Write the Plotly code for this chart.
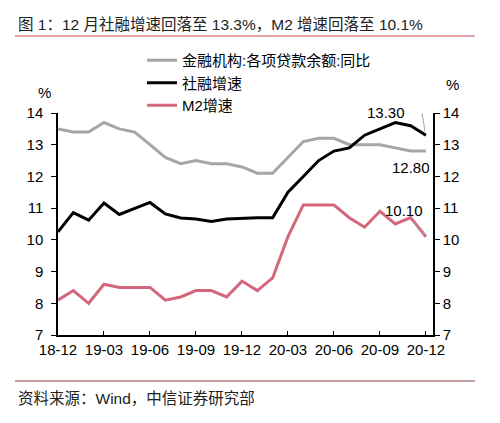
import plotly.graph_objects as go

# month labels, 18-12 .. 20-12
months = ["18-12",
          "19-01", "19-02", "19-03", "19-04", "19-05", "19-06",
          "19-07", "19-08", "19-09", "19-10", "19-11", "19-12",
          "20-01", "20-02", "20-03", "20-04", "20-05", "20-06",
          "20-07", "20-08", "20-09", "20-10", "20-11", "20-12"]
tick_labels = ["18-12", "19-03", "19-06", "19-09", "19-12", "20-03", "20-06", "20-09", "20-12"]

loans = [13.5, 13.4, 13.4, 13.7, 13.5, 13.4, 13.0, 12.6, 12.4, 12.5, 12.4, 12.4, 12.3,
         12.1, 12.1, 12.6, 13.1, 13.2, 13.2, 13.0, 13.0, 13.0, 12.9, 12.8, 12.8]
tsf = [10.25, 10.86, 10.62, 11.16, 10.8, 10.98, 11.18, 10.82, 10.69, 10.66, 10.58, 10.66, 10.69,
       10.7, 10.7, 11.5, 12.0, 12.5, 12.8, 12.9, 13.3, 13.5, 13.7, 13.6, 13.3]
m2 = [8.1, 8.4, 8.0, 8.6, 8.5, 8.5, 8.5, 8.1, 8.2, 8.4, 8.4, 8.2, 8.7,
      8.4, 8.8, 10.1, 11.1, 11.1, 11.1, 10.7, 10.4, 10.9, 10.5, 10.7, 10.1]

FONT = "Arial, Liberation Sans, Noto Sans CJK SC, sans-serif"
GRAY = "#a6a6a6"
PINK = "#d5677c"

# the page body has an 8px margin, so work in window px and shift by it
OFF = 8
W, H = 500 - 2 * OFF, 423 - 2 * OFF
# plot area in window px: x 58..433, y 113..335
L, R, T, B = 58 - OFF, 433 - OFF, 113 - OFF, 335 - OFF


def px(x):
    return (x - OFF - L) / (R - L)


def py(y):
    return (B - (y - OFF)) / (B - T)


fig = go.Figure()
fig.add_trace(go.Scatter(x=months, y=loans, name="金融机构:各项贷款余额:同比",
                         mode="lines", line=dict(color=GRAY, width=3)))
fig.add_trace(go.Scatter(x=months, y=tsf, name="社融增速",
                         mode="lines", line=dict(color="black", width=3)))
fig.add_trace(go.Scatter(x=months, y=m2, name="M2增速", yaxis="y2",
                         mode="lines", line=dict(color=PINK, width=3)))

axis_font = dict(family=FONT, size=15, color="black")
fig.update_layout(
    width=W, height=H,
    margin=dict(l=L, r=W - R, t=T, b=H - B),
    paper_bgcolor="white", plot_bgcolor="white",
    font=dict(family=FONT, size=15, color="black"),
    showlegend=True,
    legend=dict(x=px(142), y=py(44), xanchor="left", yanchor="top",
                font=dict(family=FONT, size=15, color="black"),
                bgcolor="rgba(0,0,0,0)", tracegroupgap=0),
    xaxis=dict(type="category", categoryorder="array", categoryarray=months,
               range=[0, 24.46], tickvals=tick_labels, ticktext=tick_labels,
               ticks="inside", ticklen=4, tickcolor="black",
               showline=True, linecolor="black", linewidth=1.5,
               showgrid=False, zeroline=False, tickfont=axis_font),
    yaxis=dict(range=[7, 14], dtick=1, ticks="outside", ticklen=5, tickcolor="black",
               ticklabelstandoff=5,
               showline=True, linecolor="black", linewidth=1.5,
               showgrid=False, zeroline=False, tickfont=axis_font),
    yaxis2=dict(range=[7, 14], dtick=1, overlaying="y", side="right",
                ticks="outside", ticklen=5, tickcolor="black",
                showline=True, linecolor="black", linewidth=1.5,
                showgrid=False, zeroline=False, tickfont=axis_font),
)

# title and source lines
fig.add_shape(type="line", xref="paper", yref="paper",
              x0=px(15), x1=px(475), y0=py(36), y1=py(36),
              line=dict(color="#d9838f", width=1.5))
fig.add_shape(type="line", xref="paper", yref="paper",
              x0=px(15), x1=px(475), y0=py(381), y1=py(381),
              line=dict(color="#8a4545", width=1.2))

fig.add_annotation(text="图 1：12 月社融增速回落至 13.3%，M2 增速回落至 10.1%",
                   xref="paper", yref="paper", x=px(16), y=py(24),
                   xanchor="left", yanchor="middle", showarrow=False,
                   font=dict(family=FONT, size=15.5, color="#222222"))
fig.add_annotation(text="资料来源：Wind，中信证券研究部",
                   xref="paper", yref="paper", x=px(16), y=py(398),
                   xanchor="left", yanchor="middle", showarrow=False,
                   font=dict(family=FONT, size=15.5, color="#222222"))

# unit labels
fig.add_annotation(text="%", xref="paper", yref="paper", x=px(44), y=py(92),
                   xanchor="center", yanchor="middle", showarrow=False, font=axis_font)
fig.add_annotation(text="%", xref="paper", yref="paper", x=px(452), y=py(85),
                   xanchor="center", yanchor="middle", showarrow=False, font=axis_font)

# end-value labels
fig.add_annotation(text="%.2f" % tsf[-1], x=months[-1], y=tsf[-1],
                   showarrow=False, xshift=-40, yshift=23, font=axis_font)
# bent leader line for the 13.30 label, drawn in px around the last point
fig.add_shape(type="path", xref="x", yref="y",
              xsizemode="pixel", ysizemode="pixel",
              xanchor=months[-1], yanchor=tsf[-1],
              path="M -1,4 L -4,23 L -14,23",
              line=dict(color=GRAY, width=1))
fig.add_annotation(text="%.2f" % loans[-1], x=months[-1], y=loans[-1],
                   showarrow=False, xshift=-15, yshift=-16, font=axis_font)
fig.add_annotation(text="%.2f" % m2[-1], x=months[-1], y=m2[-1], yref="y2",
                   ax=-22, ay=-26, showarrow=True, arrowhead=0, arrowwidth=1,
                   arrowcolor=GRAY, font=axis_font, standoff=2)

fig.write_html("out.html")
